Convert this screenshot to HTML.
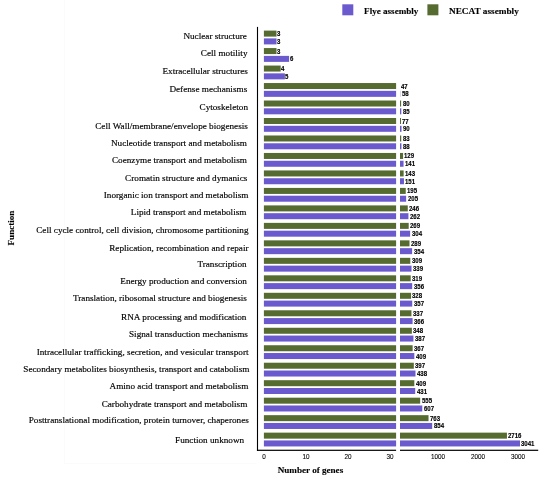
<!DOCTYPE html>
<html><head><meta charset="utf-8"><style>
html,body{margin:0;padding:0;background:#fff;}
#w{position:relative;width:550px;height:479px;overflow:hidden;background:#fff;}
#w svg{position:absolute;left:0;top:0;}
.n{position:absolute;font-family:"Liberation Sans",Arial,sans-serif;font-weight:bold;font-size:6.6px;line-height:10px;height:10px;white-space:nowrap;color:#000;transform:scaleX(0.92);transform-origin:0 50%;-webkit-text-stroke:0.15px #000;}
.c{position:absolute;font-family:"Liberation Serif","Times New Roman",serif;font-size:9.2px;line-height:12px;height:12px;white-space:nowrap;color:#000;-webkit-text-stroke:0.15px #000;}
.t{position:absolute;font-family:"Liberation Sans",Arial,sans-serif;font-size:7.3px;line-height:10px;width:30px;text-align:center;white-space:nowrap;color:#000;transform:scaleX(0.87);-webkit-text-stroke:0.1px #000;}
.lg{position:absolute;font-family:"Liberation Serif","Times New Roman",serif;font-weight:bold;font-size:9.1px;line-height:12px;white-space:nowrap;color:#000;-webkit-text-stroke:0.12px #000;}
</style></head><body><div id="w">
<svg width="550" height="479" viewBox="0 0 550 479">
<rect x="263.90" y="30.60" width="12.60" height="6.00" fill="#556b2f"/>
<rect x="263.90" y="38.40" width="12.60" height="6.00" fill="#6a5acd"/>
<rect x="263.90" y="48.08" width="12.60" height="6.00" fill="#556b2f"/>
<rect x="263.90" y="55.88" width="25.20" height="6.00" fill="#6a5acd"/>
<rect x="263.90" y="65.56" width="16.80" height="6.00" fill="#556b2f"/>
<rect x="263.90" y="73.36" width="21.00" height="6.00" fill="#6a5acd"/>
<rect x="263.90" y="83.04" width="132.20" height="6.00" fill="#556b2f"/>
<rect x="263.90" y="90.84" width="132.20" height="6.00" fill="#6a5acd"/>
<rect x="400.00" y="90.84" width="0.23" height="6.00" fill="#6a5acd"/>
<rect x="263.90" y="100.52" width="132.20" height="6.00" fill="#556b2f"/>
<rect x="400.00" y="100.52" width="1.11" height="6.00" fill="#556b2f"/>
<rect x="263.90" y="108.32" width="132.20" height="6.00" fill="#6a5acd"/>
<rect x="400.00" y="108.32" width="1.31" height="6.00" fill="#6a5acd"/>
<rect x="263.90" y="118.00" width="132.20" height="6.00" fill="#556b2f"/>
<rect x="400.00" y="118.00" width="0.99" height="6.00" fill="#556b2f"/>
<rect x="263.90" y="125.80" width="132.20" height="6.00" fill="#6a5acd"/>
<rect x="400.00" y="125.80" width="1.51" height="6.00" fill="#6a5acd"/>
<rect x="263.90" y="135.48" width="132.20" height="6.00" fill="#556b2f"/>
<rect x="400.00" y="135.48" width="1.23" height="6.00" fill="#556b2f"/>
<rect x="263.90" y="143.28" width="132.20" height="6.00" fill="#6a5acd"/>
<rect x="400.00" y="143.28" width="1.43" height="6.00" fill="#6a5acd"/>
<rect x="263.90" y="152.96" width="132.20" height="6.00" fill="#556b2f"/>
<rect x="400.00" y="152.96" width="3.08" height="6.00" fill="#556b2f"/>
<rect x="263.90" y="160.76" width="132.20" height="6.00" fill="#6a5acd"/>
<rect x="400.00" y="160.76" width="3.56" height="6.00" fill="#6a5acd"/>
<rect x="263.90" y="170.44" width="132.20" height="6.00" fill="#556b2f"/>
<rect x="400.00" y="170.44" width="3.64" height="6.00" fill="#556b2f"/>
<rect x="263.90" y="178.24" width="132.20" height="6.00" fill="#6a5acd"/>
<rect x="400.00" y="178.24" width="3.96" height="6.00" fill="#6a5acd"/>
<rect x="263.90" y="187.92" width="132.20" height="6.00" fill="#556b2f"/>
<rect x="400.00" y="187.92" width="5.73" height="6.00" fill="#556b2f"/>
<rect x="263.90" y="195.72" width="132.20" height="6.00" fill="#6a5acd"/>
<rect x="400.00" y="195.72" width="6.13" height="6.00" fill="#6a5acd"/>
<rect x="263.90" y="205.40" width="132.20" height="6.00" fill="#556b2f"/>
<rect x="400.00" y="205.40" width="7.78" height="6.00" fill="#556b2f"/>
<rect x="263.90" y="213.20" width="132.20" height="6.00" fill="#6a5acd"/>
<rect x="400.00" y="213.20" width="8.42" height="6.00" fill="#6a5acd"/>
<rect x="263.90" y="222.88" width="132.20" height="6.00" fill="#556b2f"/>
<rect x="400.00" y="222.88" width="8.70" height="6.00" fill="#556b2f"/>
<rect x="263.90" y="230.68" width="132.20" height="6.00" fill="#6a5acd"/>
<rect x="400.00" y="230.68" width="10.11" height="6.00" fill="#6a5acd"/>
<rect x="263.90" y="240.36" width="132.20" height="6.00" fill="#556b2f"/>
<rect x="400.00" y="240.36" width="9.50" height="6.00" fill="#556b2f"/>
<rect x="263.90" y="248.16" width="132.20" height="6.00" fill="#6a5acd"/>
<rect x="400.00" y="248.16" width="12.11" height="6.00" fill="#6a5acd"/>
<rect x="263.90" y="257.84" width="132.20" height="6.00" fill="#556b2f"/>
<rect x="400.00" y="257.84" width="10.31" height="6.00" fill="#556b2f"/>
<rect x="263.90" y="265.64" width="132.20" height="6.00" fill="#6a5acd"/>
<rect x="400.00" y="265.64" width="11.51" height="6.00" fill="#6a5acd"/>
<rect x="263.90" y="275.32" width="132.20" height="6.00" fill="#556b2f"/>
<rect x="400.00" y="275.32" width="10.71" height="6.00" fill="#556b2f"/>
<rect x="263.90" y="283.12" width="132.20" height="6.00" fill="#6a5acd"/>
<rect x="400.00" y="283.12" width="12.19" height="6.00" fill="#6a5acd"/>
<rect x="263.90" y="292.80" width="132.20" height="6.00" fill="#556b2f"/>
<rect x="400.00" y="292.80" width="11.07" height="6.00" fill="#556b2f"/>
<rect x="263.90" y="300.60" width="132.20" height="6.00" fill="#6a5acd"/>
<rect x="400.00" y="300.60" width="12.23" height="6.00" fill="#6a5acd"/>
<rect x="263.90" y="310.28" width="132.20" height="6.00" fill="#556b2f"/>
<rect x="400.00" y="310.28" width="11.43" height="6.00" fill="#556b2f"/>
<rect x="263.90" y="318.08" width="132.20" height="6.00" fill="#6a5acd"/>
<rect x="400.00" y="318.08" width="12.59" height="6.00" fill="#6a5acd"/>
<rect x="263.90" y="327.76" width="132.20" height="6.00" fill="#556b2f"/>
<rect x="400.00" y="327.76" width="11.87" height="6.00" fill="#556b2f"/>
<rect x="263.90" y="335.56" width="132.20" height="6.00" fill="#6a5acd"/>
<rect x="400.00" y="335.56" width="13.44" height="6.00" fill="#6a5acd"/>
<rect x="263.90" y="345.24" width="132.20" height="6.00" fill="#556b2f"/>
<rect x="400.00" y="345.24" width="12.64" height="6.00" fill="#556b2f"/>
<rect x="263.90" y="353.04" width="132.20" height="6.00" fill="#6a5acd"/>
<rect x="400.00" y="353.04" width="14.32" height="6.00" fill="#6a5acd"/>
<rect x="263.90" y="362.72" width="132.20" height="6.00" fill="#556b2f"/>
<rect x="400.00" y="362.72" width="13.84" height="6.00" fill="#556b2f"/>
<rect x="263.90" y="370.52" width="132.20" height="6.00" fill="#6a5acd"/>
<rect x="400.00" y="370.52" width="15.49" height="6.00" fill="#6a5acd"/>
<rect x="263.90" y="380.20" width="132.20" height="6.00" fill="#556b2f"/>
<rect x="400.00" y="380.20" width="14.32" height="6.00" fill="#556b2f"/>
<rect x="263.90" y="388.00" width="132.20" height="6.00" fill="#6a5acd"/>
<rect x="400.00" y="388.00" width="15.20" height="6.00" fill="#6a5acd"/>
<rect x="263.90" y="397.68" width="132.20" height="6.00" fill="#556b2f"/>
<rect x="400.00" y="397.68" width="20.18" height="6.00" fill="#556b2f"/>
<rect x="263.90" y="405.48" width="132.20" height="6.00" fill="#6a5acd"/>
<rect x="400.00" y="405.48" width="22.27" height="6.00" fill="#6a5acd"/>
<rect x="263.90" y="415.16" width="132.20" height="6.00" fill="#556b2f"/>
<rect x="400.00" y="415.16" width="28.53" height="6.00" fill="#556b2f"/>
<rect x="263.90" y="422.96" width="132.20" height="6.00" fill="#6a5acd"/>
<rect x="400.00" y="422.96" width="32.19" height="6.00" fill="#6a5acd"/>
<rect x="263.90" y="432.64" width="132.20" height="6.00" fill="#556b2f"/>
<rect x="400.00" y="432.64" width="106.95" height="6.00" fill="#556b2f"/>
<rect x="263.90" y="440.44" width="132.20" height="6.00" fill="#6a5acd"/>
<rect x="400.00" y="440.44" width="120.00" height="6.00" fill="#6a5acd"/>
<rect x="256.95" y="26.90" width="1.10" height="424.00" fill="#000"/>
<rect x="256.95" y="449.70" width="139.15" height="1.20" fill="#000"/>
<rect x="400.00" y="449.70" width="138.20" height="1.20" fill="#000"/>
<rect x="64.30" y="0.00" width="0.80" height="463.90" fill="#fafafa"/>
<rect x="64.30" y="463.10" width="192.20" height="0.80" fill="#fafafa"/>
<rect x="342.30" y="4.30" width="11.00" height="11.00" fill="#6a5acd"/>
<rect x="427.40" y="4.30" width="11.00" height="11.00" fill="#556b2f"/>
</svg>
<div class="n" style="left:276.95px;top:29.10px;">3</div>
<div class="n" style="left:276.95px;top:36.90px;">3</div>
<div class="c" style="right:303.10px;top:29.80px">Nuclear structure</div>
<div class="n" style="left:276.95px;top:46.58px;">3</div>
<div class="n" style="left:289.55px;top:54.38px;">6</div>
<div class="c" style="right:302.50px;top:46.70px">Cell motility</div>
<div class="n" style="left:281.15px;top:64.06px;">4</div>
<div class="n" style="left:285.35px;top:71.86px;">5</div>
<div class="c" style="right:302.10px;top:65.20px">Extracellular structures</div>
<div class="n" style="left:401.40px;top:81.54px;">47</div>
<div class="n" style="left:401.63px;top:89.34px;">58</div>
<div class="c" style="right:302.80px;top:83.40px">Defense mechanisms</div>
<div class="n" style="left:402.51px;top:99.02px;">80</div>
<div class="n" style="left:402.71px;top:106.82px;">85</div>
<div class="c" style="right:302.00px;top:101.00px">Cytoskeleton</div>
<div class="n" style="left:402.39px;top:116.50px;">77</div>
<div class="n" style="left:402.91px;top:124.30px;">90</div>
<div class="c" style="right:302.10px;top:119.70px">Cell Wall/membrane/envelope biogenesis</div>
<div class="n" style="left:402.63px;top:133.98px;">83</div>
<div class="n" style="left:402.83px;top:141.78px;">88</div>
<div class="c" style="right:303.10px;top:137.20px">Nucleotide transport and metabolism</div>
<div class="n" style="left:404.48px;top:151.46px;">129</div>
<div class="n" style="left:404.96px;top:159.26px;">141</div>
<div class="c" style="right:303.10px;top:153.80px">Coenzyme transport and metabolism</div>
<div class="n" style="left:405.04px;top:168.94px;">143</div>
<div class="n" style="left:405.36px;top:176.74px;">151</div>
<div class="c" style="right:302.70px;top:171.80px">Cromatin structure and dymanics</div>
<div class="n" style="left:407.13px;top:186.42px;">195</div>
<div class="n" style="left:407.53px;top:194.22px;">205</div>
<div class="c" style="right:301.50px;top:189.00px">Inorganic ion transport and metabolism</div>
<div class="n" style="left:409.18px;top:203.90px;">246</div>
<div class="n" style="left:409.82px;top:211.70px;">262</div>
<div class="c" style="right:303.60px;top:206.20px">Lipid transport and metabolism</div>
<div class="n" style="left:410.10px;top:221.38px;">269</div>
<div class="n" style="left:411.51px;top:229.18px;">304</div>
<div class="c" style="right:301.50px;top:223.70px">Cell cycle control, cell division, chromosome partitioning</div>
<div class="n" style="left:410.90px;top:238.86px;">289</div>
<div class="n" style="left:413.51px;top:246.66px;">354</div>
<div class="c" style="right:301.50px;top:241.50px">Replication, recombination and repair</div>
<div class="n" style="left:411.71px;top:256.34px;">309</div>
<div class="n" style="left:412.91px;top:264.14px;">339</div>
<div class="c" style="right:303.40px;top:258.10px">Transcription</div>
<div class="n" style="left:412.11px;top:273.82px;">319</div>
<div class="n" style="left:413.59px;top:281.62px;">356</div>
<div class="c" style="right:303.10px;top:275.20px">Energy production and conversion</div>
<div class="n" style="left:412.47px;top:291.30px;">328</div>
<div class="n" style="left:413.63px;top:299.10px;">357</div>
<div class="c" style="right:303.10px;top:291.70px">Translation, ribosomal structure and biogenesis</div>
<div class="n" style="left:412.83px;top:308.78px;">337</div>
<div class="n" style="left:413.99px;top:316.58px;">366</div>
<div class="c" style="right:303.60px;top:311.10px">RNA processing and modification</div>
<div class="n" style="left:413.27px;top:326.26px;">348</div>
<div class="n" style="left:414.84px;top:334.06px;">387</div>
<div class="c" style="right:302.10px;top:328.20px">Signal transduction mechanisms</div>
<div class="n" style="left:414.04px;top:343.74px;">367</div>
<div class="n" style="left:415.72px;top:351.54px;">409</div>
<div class="c" style="right:301.50px;top:346.00px">Intracellular trafficking, secretion, and vesicular transport</div>
<div class="n" style="left:415.24px;top:361.22px;">397</div>
<div class="n" style="left:416.89px;top:369.02px;">438</div>
<div class="c" style="right:300.60px;top:363.20px">Secondary metabolites biosynthesis, transport and catabolism</div>
<div class="n" style="left:415.72px;top:378.70px;">409</div>
<div class="n" style="left:416.60px;top:386.50px;">431</div>
<div class="c" style="right:301.70px;top:380.10px">Amino acid transport and metabolism</div>
<div class="n" style="left:421.58px;top:396.18px;">555</div>
<div class="n" style="left:423.67px;top:403.98px;">607</div>
<div class="c" style="right:302.70px;top:397.90px">Carbohydrate transport and metabolism</div>
<div class="n" style="left:429.93px;top:413.66px;">763</div>
<div class="n" style="left:433.59px;top:421.46px;">854</div>
<div class="c" style="right:301.20px;top:414.20px">Posttranslational modification, protein turnover, chaperones</div>
<div class="n" style="left:508.35px;top:431.14px;">2716</div>
<div class="n" style="left:521.40px;top:438.94px;">3041</div>
<div class="c" style="right:305.80px;top:433.70px">Function unknown</div>
<div class="t" style="left:248.90px;top:451.5px">0</div>
<div class="t" style="left:290.90px;top:451.5px">10</div>
<div class="t" style="left:332.90px;top:451.5px">20</div>
<div class="t" style="left:374.90px;top:451.5px">30</div>
<div class="t" style="left:423.05px;top:451.5px">1000</div>
<div class="t" style="left:463.20px;top:451.5px">2000</div>
<div class="t" style="left:503.35px;top:451.5px">3000</div>
<div class="lg" style="left:364.1px;top:4.5px;font-size:9.1px">Flye assembly</div>
<div class="lg" style="left:449px;top:4.5px;font-size:9.25px">NECAT assembly</div>
<div class="lg" style="left:277.7px;top:464px">Number of genes</div>
<div class="lg" style="left:11px;top:228.4px;transform:translate(-50%,-50%) rotate(-90deg);transform-origin:center">Function</div>
</div></body></html>
